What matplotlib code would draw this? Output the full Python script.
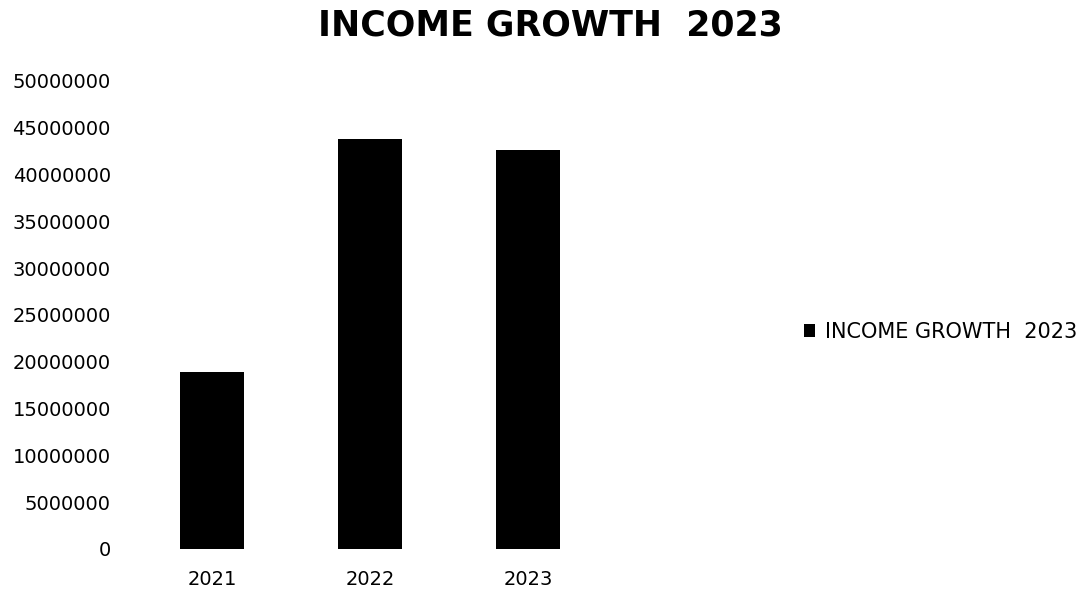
import matplotlib.pyplot as plt

# Yearly income figures
years = ['2021', '2022', '2023', '']
income = [18900000, 43800000, 42600000, 0]
series_name = 'INCOME GROWTH  2023'
y_ticks = list(range(0, 50000001, 5000000))

plt.rcParams['font.family'] = ['DejaVu Sans']

fig = plt.figure(figsize=(10.87, 5.97), dpi=100)
ax = fig.add_axes([133 / 1087, 48 / 597, 632 / 1087, 468 / 597])

positions = range(len(years))
ax.bar(positions, income, width=0.4, color='black', label=series_name)

ax.set_xlim(-0.5, len(years) - 0.5)
ax.set_ylim(0, 50000000)
ax.set_yticks(y_ticks)
ax.set_yticklabels([str(t) for t in y_ticks], fontsize=14)
ax.set_xticks(list(positions))
ax.set_xticklabels(years, fontsize=14)
ax.tick_params(length=0)
ax.tick_params(axis='x', pad=15)
ax.tick_params(axis='y', pad=16)
for spine in ax.spines.values():
    spine.set_visible(False)

fig.suptitle(series_name, fontsize=25, fontweight='bold', x=550 / 1087, y=1 - 25 / 597, va='center')

fig.legend(loc='center left', bbox_to_anchor=(785 / 1087, 1 - 332 / 597), frameon=False,
           fontsize=15, handlelength=0.55, handleheight=0.55, handletextpad=0.45)

fig.savefig('out.png', dpi=100)
